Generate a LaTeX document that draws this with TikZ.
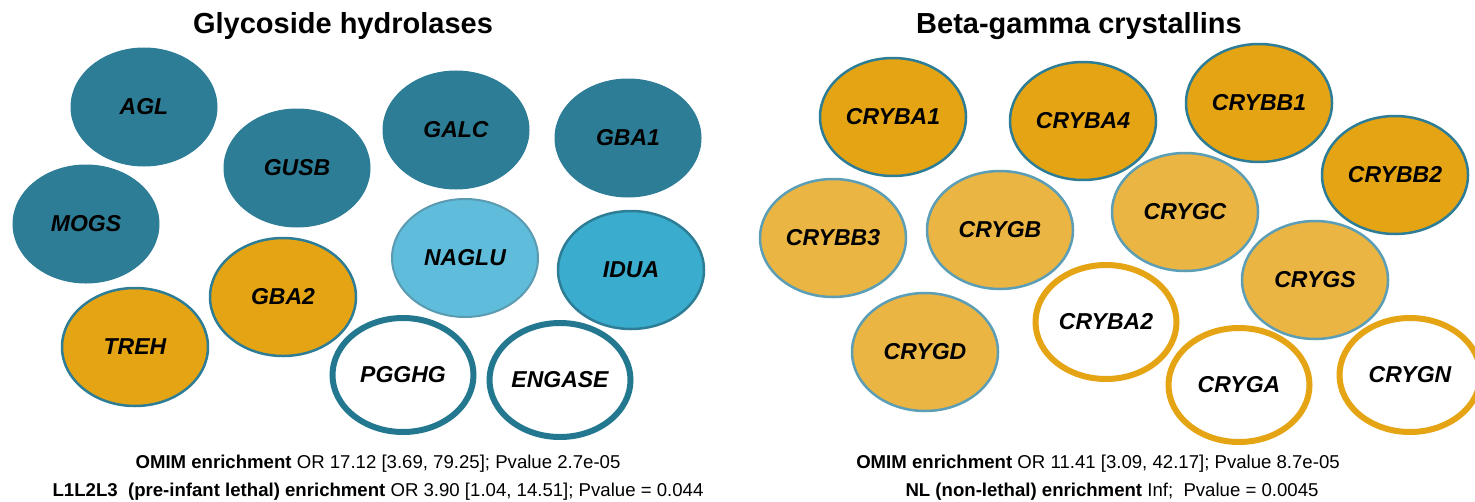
\documentclass[tikz,border=0pt]{standalone}
\usepackage{fontspec}
\setmainfont{Liberation Sans}
\usepackage{xcolor}
\definecolor{tealdark}{HTML}{2E7D96}
\definecolor{tealring}{HTML}{23788F}
\definecolor{skylight}{HTML}{5FBCDA}
\definecolor{skyedge}{HTML}{5A9BB2}
\definecolor{azure}{HTML}{3AADCF}
\definecolor{amber}{HTML}{E5A413}
\definecolor{amberpale}{HTML}{EAB543}
\definecolor{paleedge}{HTML}{5B9EB5}
\usepackage{tikz}
\usetikzlibrary{shapes.geometric,positioning}

\begin{document}
\begin{tikzpicture}[x=1pt, y=-1pt,
    gene/.style={ellipse, minimum width=146, minimum height=118, inner sep=0pt, text=black, font=\fontsize{23}{23}\selectfont\bfseries\itshape},
    darkgene/.style={gene, fill=tealdark, draw=tealdark, line width=1pt},
    skygene/.style={gene, fill=skylight, draw=skyedge, line width=2pt},
    azuregene/.style={gene, fill=azure, draw=tealdark, line width=2.5pt},
    ambergene/.style={gene, fill=amber, draw=tealdark, line width=2.5pt},
    palegene/.style={gene, fill=amberpale, draw=paleedge, line width=2.5pt},
    tealringgene/.style={gene, fill=white, draw=tealring, line width=6pt, minimum width=141, minimum height=114},
    amberringgene/.style={gene, fill=white, draw=amber, line width=6pt, minimum width=141, minimum height=114},
    title/.style={anchor=base, font=\fontsize{29}{29}\selectfont\bfseries},
    stat/.style={anchor=base, font=\fontsize{18.6}{18.6}\selectfont}
  ]
    \useasboundingbox (0,0) rectangle (1475,501);

    % Glycoside hydrolases
    \node[title] (glyco) at (343,33) {Glycoside hydrolases};
    \foreach \x/\y/\name in {144/107/AGL, 297/168/GUSB, 456/130/GALC, 628/138/GBA1, 86/224/MOGS} {
      \node[darkgene] (\name) at (\x,\y) {\name};
    }
    \node[skygene] (NAGLU) at (465,258) {NAGLU};
    \node[azuregene] (IDUA) at (631,270) {IDUA};
    \foreach \x/\y/\name in {283/297/GBA2, 135/347/TREH} {
      \node[ambergene] (\name) at (\x,\y) {\name};
    }
    \foreach \x/\y/\name in {403/375/PGGHG, 560/380/ENGASE} {
      \node[tealringgene] (\name) at (\x,\y) {\name};
    }
    \node[stat] (glycoomim) at (378,468) {\textbf{OMIM enrichment} OR 17.12 [3.69, 79.25]; Pvalue 2.7e-05};
    \node[stat] (glycolethal) at (378,496) {\textbf{L1L2L3\ \ (pre-infant lethal) enrichment} OR 3.90 [1.04, 14.51]; Pvalue = 0.044};

    % Beta-gamma crystallins
    \node[title] (cryst) at (1079,33) {Beta-gamma crystallins};
    \foreach \x/\y/\name in {893/117/CRYBA1, 1083/121/CRYBA4, 1259/103/CRYBB1, 1395/175/CRYBB2} {
      \node[ambergene] (\name) at (\x,\y) {\name};
    }
    \foreach \x/\y/\name in {833/238/CRYBB3, 1000/230/CRYGB, 1185/212/CRYGC, 1315/280/CRYGS, 925/352/CRYGD} {
      \node[palegene] (\name) at (\x,\y) {\name};
    }
    \foreach \x/\y/\name in {1106/322/CRYBA2, 1239/385/CRYGA, 1410/375/CRYGN} {
      \node[amberringgene] (\name) at (\x,\y) {\name};
    }
    \node[stat] (crystomim) at (1098,468) {\textbf{OMIM enrichment} OR 11.41 [3.09, 42.17]; Pvalue 8.7e-05};
    \node[stat] (crystlethal) at (1112,496) {\textbf{NL (non-lethal) enrichment} Inf;\ \ Pvalue = 0.0045};
\end{tikzpicture}
\end{document}
